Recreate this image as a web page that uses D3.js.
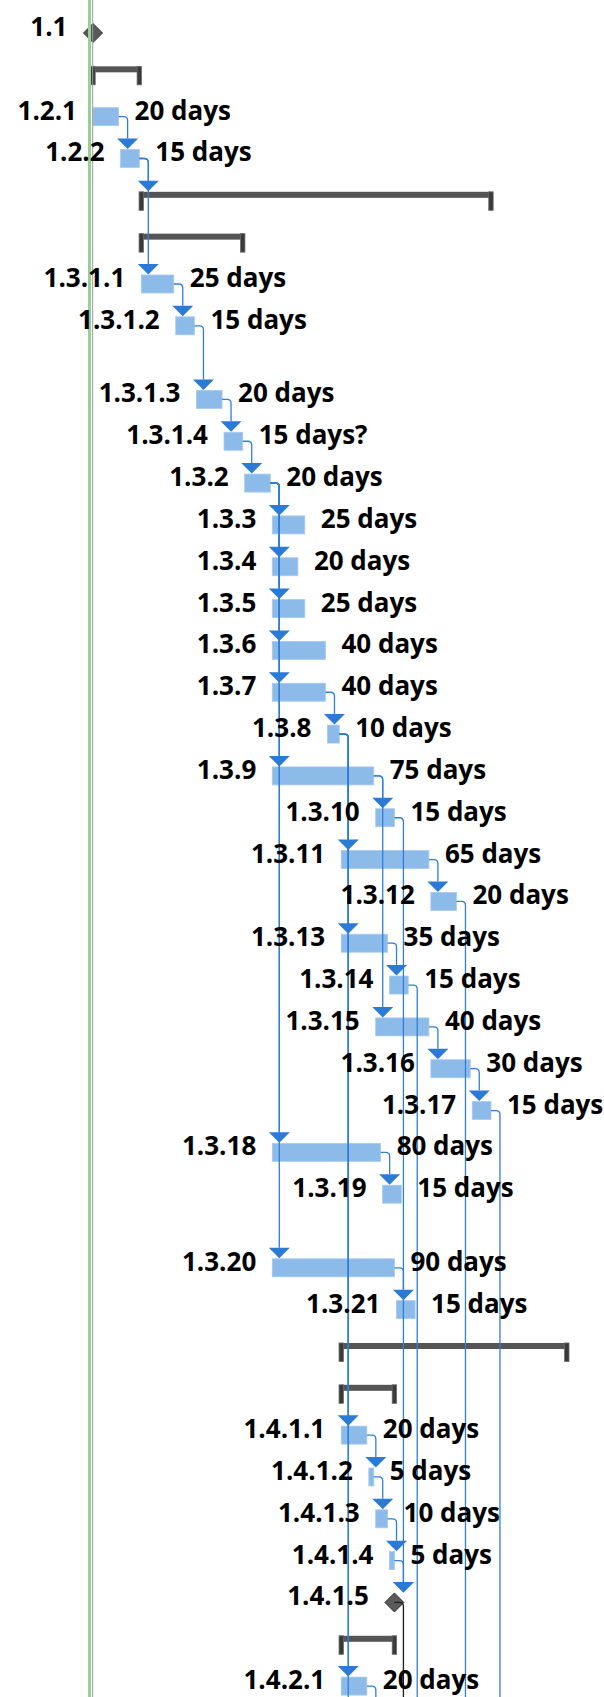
<!DOCTYPE html>
<html>

<head>
    <meta charset="utf-8">
    <style>
        body {
            margin: 0;
            background: #fff;
        }

        svg {
            display: block;
        }

        .label {
            font-family: 'Open Sans', 'Noto Sans', sans-serif;
            font-size: 26px;
            font-weight: 700;
            fill: #000;
        }
    </style>
</head>

<body>
    <svg width="604" height="1697"></svg>

    <script src="https://d3js.org/d3.v7.min.js"></script>
    <script>
        // task table, one entry per row (working days from project start)
        const taskIds = ["1.1", "1.2", "1.2.1", "1.2.2", "1.3", "1.3.1", "1.3.1.1", "1.3.1.2", "1.3.1.3", "1.3.1.4",
            "1.3.2", "1.3.3", "1.3.4", "1.3.5", "1.3.6", "1.3.7", "1.3.8", "1.3.9", "1.3.10", "1.3.11",
            "1.3.12", "1.3.13", "1.3.14", "1.3.15", "1.3.16", "1.3.17", "1.3.18", "1.3.19", "1.3.20", "1.3.21",
            "1.4", "1.4.1", "1.4.1.1", "1.4.1.2", "1.4.1.3", "1.4.1.4", "1.4.1.5", "1.4.2", "1.4.2.1"]

        const taskTypes = ["milestone", "summary", "task", "task", "summary", "summary", "task", "task", "task", "task",
            "task", "task", "task", "task", "task", "task", "task", "task", "task", "task",
            "task", "task", "task", "task", "task", "task", "task", "task", "task", "task",
            "summary", "summary", "task", "task", "task", "task", "milestone", "summary", "task"]

        const startDays = [0, 0, 0, 20, 35, 35, 35, 60, 75, 95,
            110, 130, 130, 130, 130, 130, 170, 130, 205, 180,
            245, 180, 215, 205, 245, 275, 130, 210, 130, 220,
            180, 180, 180, 200, 205, 215, 220, 180, 180]

        const durations = [0, 35, 20, 15, 255, 75, 25, 15, 20, 15,
            20, 25, 20, 25, 40, 40, 10, 75, 15, 65,
            20, 35, 15, 40, 30, 15, 80, 15, 90, 15,
            165, 40, 20, 5, 10, 5, 0, 40, 20]

        // durations shown with a question mark
        const estimatedIds = ["1.3.1.4"]

        // predecessor -> successor
        const links = [
            ["1.2.1", "1.2.2"], ["1.2.2", "1.3"], ["1.2.2", "1.3.1.1"],
            ["1.3.1.1", "1.3.1.2"], ["1.3.1.2", "1.3.1.3"], ["1.3.1.3", "1.3.1.4"], ["1.3.1.4", "1.3.2"],
            ["1.3.2", "1.3.3"], ["1.3.2", "1.3.4"], ["1.3.2", "1.3.5"], ["1.3.2", "1.3.6"],
            ["1.3.2", "1.3.7"], ["1.3.2", "1.3.9"], ["1.3.2", "1.3.18"], ["1.3.2", "1.3.20"],
            ["1.3.7", "1.3.8"], ["1.3.8", "1.3.11"], ["1.3.8", "1.3.13"], ["1.3.8", "1.4.1.1"], ["1.3.8", "1.4.2.1"],
            ["1.3.9", "1.3.10"], ["1.3.9", "1.3.15"], ["1.3.10", "1.4.1.5"],
            ["1.3.11", "1.3.12"], ["1.3.13", "1.3.14"], ["1.3.15", "1.3.16"], ["1.3.16", "1.3.17"],
            ["1.3.18", "1.3.19"], ["1.3.20", "1.3.21"],
            ["1.4.1.1", "1.4.1.2"], ["1.4.1.2", "1.4.1.3"], ["1.4.1.3", "1.4.1.4"], ["1.4.1.4", "1.4.1.5"]
        ]

        // links whose successor lies below the visible part of the chart
        const linksBelowView = ["1.3.8", "1.3.12", "1.3.14", "1.3.17", "1.4.1.5", "1.4.2.1"]

        let width = 604;
        let height = 1697;
        let svg = d3.select("svg")

        // rows with a taller table row (wrapped name) get extra room above the bar
        const rowPitch = 41.83
        const tallBefore = new Set(["1.3.1.3", "1.3.20"])

        let slot = 0
        let tasks = taskIds.map((id, i) => {
            if (tallBefore.has(id)) slot += 0.76
            let t = { id: id, type: taskTypes[i], start: startDays[i], dur: durations[i], slot: slot }
            slot += 1
            return t
        })
        let byId = new Map(tasks.map(t => [t.id, t]))

        // working days -> calendar days (5-day weeks)
        let calStart = d => Math.floor(d / 5) * 7 + d % 5
        let calEnd = d => d === 0 ? 0 : Math.floor((d - 1) / 5) * 7 + (d - 1) % 5 + 1

        let x = d3.scaleLinear()
            .domain([0, 481])
            .range([93, 566.8])

        let y = d3.scaleLinear()
            .domain([0, 1])
            .range([33, 33 + rowPitch])

        tasks.forEach(t => {
            t.cy = y(t.slot)
            if (t.type === "milestone") {
                t.cx = t.start === 0 ? x(0) : x(calEnd(t.start))
                t.x0 = t.cx - 9.5
                t.x1 = t.cx
                t.top = t.cy - 9.5
            } else {
                t.x0 = x(calStart(t.start))
                t.x1 = x(calEnd(t.start + t.dur))
                t.top = t.type === "summary" ? t.cy - 8.5 : t.cy - 9
            }
        })

        // summary bars
        let summaries = tasks.filter(t => t.type === "summary")
        svg.append("g")
            .selectAll("rect")
            .data(summaries)
            .join("rect")
            .attr("x", d => d.x0)
            .attr("y", d => d.top)
            .attr("width", d => d.x1 - d.x0)
            .attr("height", 6)
            .attr("fill", "#555")

        let caps = summaries.flatMap(d => [{ cx: d.x0, top: d.top }, { cx: d.x1, top: d.top }])
        svg.append("g")
            .selectAll("rect")
            .data(caps)
            .join("rect")
            .attr("x", d => d.cx - 2.2)
            .attr("y", d => d.top)
            .attr("width", 4.4)
            .attr("height", 18.5)
            .attr("fill", "#3a3a3a")
            .attr("stroke", "#6a6a6a")
            .attr("stroke-width", 0.8)

        // task bars
        svg.append("g")
            .selectAll("rect")
            .data(tasks.filter(t => t.type === "task"))
            .join("rect")
            .attr("x", d => d.x0)
            .attr("y", d => d.top)
            .attr("width", d => Math.max(d.x1 - d.x0, 5))
            .attr("height", 18)
            .attr("fill", "#8cbbea")
            .attr("stroke", "#a6cbf0")
            .attr("stroke-width", 0.8)

        // milestones
        svg.append("g")
            .selectAll("path")
            .data(tasks.filter(t => t.type === "milestone"))
            .join("path")
            .attr("d", d => `M${d.cx},${d.cy - 9.5} L${d.cx + 9.5},${d.cy} L${d.cx},${d.cy + 9.5} L${d.cx - 9.5},${d.cy} Z`)
            .attr("fill", "#5a5a5a")
            .attr("stroke", "#2e2e2e")
            .attr("stroke-width", 1)

        // links
        let linkData = links.map(([a, b]) => ({ from: byId.get(a), to: byId.get(b) }))
            .concat(linksBelowView.map(a => ({ from: byId.get(a), to: null })))

        linkData.forEach(l => {
            l.sx = l.from.x1
            l.sy = l.from.cy
            l.xv = l.sx + 9
            l.ey = l.to ? l.to.top - 11 : height + 10
            l.color = l.from.type === "milestone" ? "#1c1c1c" : "#2f7fd9"
        })

        svg.append("g")
            .selectAll("path")
            .data(linkData)
            .join("path")
            .attr("d", d => `M${d.sx},${d.sy} H${d.xv - 4} Q${d.xv},${d.sy} ${d.xv},${d.sy + 4} V${d.ey}`)
            .attr("fill", "none")
            .attr("stroke", d => d.color)
            .attr("stroke-width", 1.3)

        svg.append("g")
            .selectAll("path")
            .data(linkData.filter(d => d.to))
            .join("path")
            .attr("d", d => `M${d.xv - 10.5},${d.ey} L${d.xv + 10.5},${d.ey} L${d.xv},${d.ey + 10.5} Z`)
            .attr("fill", "#2a7ad6")

        // timeline markers at project start
        svg.append("rect")
            .attr("x", 88)
            .attr("y", 0)
            .attr("width", 3)
            .attr("height", height)
            .attr("fill", "#97cf97")

        svg.append("line")
            .attr("x1", 92.7)
            .attr("x2", 92.7)
            .attr("y1", 0)
            .attr("y2", height)
            .attr("stroke", "#9a9a9a")
            .attr("stroke-width", 1)

        // labels
        let labelled = tasks.filter(t => t.type !== "summary")
        svg.append("g")
            .selectAll("text")
            .data(labelled)
            .join("text")
            .attr("class", "label")
            .attr("x", d => d.x0 - 16)
            .attr("y", d => d.cy + 3)
            .attr("text-anchor", "end")
            .text(d => d.id)

        svg.append("g")
            .selectAll("text")
            .data(tasks.filter(t => t.type === "task"))
            .join("text")
            .attr("class", "label")
            .attr("x", d => d.x1 + 16)
            .attr("y", d => d.cy + 3)
            .text(d => d.dur + " days" + (estimatedIds.includes(d.id) ? "?" : ""))
    </script>
</body>

</html>
